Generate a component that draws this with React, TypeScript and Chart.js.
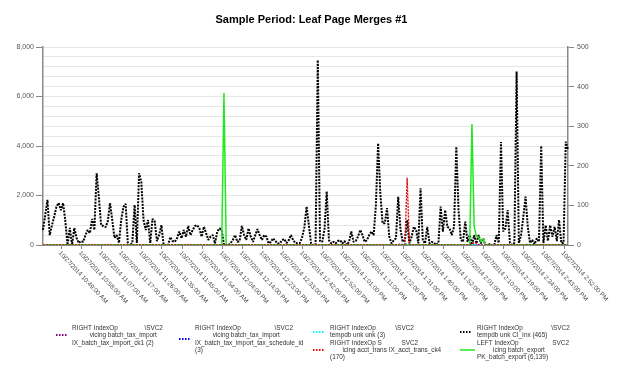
import React, { useEffect, useRef } from 'react';
import { Chart, registerables } from 'chart.js';

Chart.register(...registerables);

const W = 606;
const H = 362;
const FONT = '"Liberation Sans", Arial, Helvetica, sans-serif';

const title = 'Sample Period: Leaf Page Merges #1';

// x-axis tick labels (one every 9 samples, starting at sample 8)
const tickLabels = [
  '10/27/2014 10:49:00 AM', '10/27/2014 10:58:00 AM', '10/27/2014 11:07:00 AM', '10/27/2014 11:17:00 AM',
  '10/27/2014 11:26:00 AM', '10/27/2014 11:35:00 AM', '10/27/2014 11:45:00 AM', '10/27/2014 11:54:00 AM',
  '10/27/2014 12:04:00 PM', '10/27/2014 12:14:00 PM', '10/27/2014 12:23:00 PM', '10/27/2014 12:33:00 PM',
  '10/27/2014 12:42:00 PM', '10/27/2014 12:52:00 PM', '10/27/2014 1:01:00 PM', '10/27/2014 1:11:00 PM',
  '10/27/2014 1:22:00 PM', '10/27/2014 1:31:00 PM', '10/27/2014 1:40:00 PM', '10/27/2014 1:52:00 PM',
  '10/27/2014 2:01:00 PM', '10/27/2014 2:10:00 PM', '10/27/2014 2:19:00 PM', '10/27/2014 2:34:00 PM',
  '10/27/2014 2:43:00 PM', '10/27/2014 2:52:00 PM',
];
const FIRST_LABEL_SAMPLE = 8;
const SAMPLES_PER_LABEL = 9;

// RIGHT axis: tempdb unk CI_Inx (465) - one value per sample
const ciInx = [
  38, 76, 114, 25, 50, 71, 96, 106, 88, 106,
  60, 0, 43, 0, 43, 18, 5, 10, 8, 25,
  38, 30, 66, 38, 181, 121, 50, 48, 45, 60,
  106, 63, 18, 25, 5, 63, 96, 104, 0, 0,
  5, 101, 5, 181, 159, 63, 38, 63, 5, 66,
  60, 10, 25, 50, 0, 0, 0, 20, 10, 8,
  17, 34, 17, 38, 21, 48, 25, 38, 48, 50,
  42, 21, 46, 30, 13, 21, 25, 4, 34, 42,
  38, 0, 0, 0, 5, 13, 25, 8, 10, 48,
  25, 13, 42, 21, 8, 25, 40, 25, 13, 25,
  21, 4, 8, 17, 10, 4, 4, 12, 15, 5,
  12, 25, 12, 5, 4, 5, 20, 45, 97, 50,
  4, 0, 0, 467, 10, 8, 40, 135, 12, 4,
  8, 4, 10, 12, 4, 10, 0, 8, 34, 8,
  10, 21, 38, 25, 8, 12, 25, 34, 25, 100,
  257, 130, 55, 55, 93, 21, 4, 12, 17, 122,
  40, 8, 12, 63, 4, 21, 46, 38, 4, 143,
  12, 4, 46, 4, 8, 5, 0, 5, 97, 34,
  88, 46, 42, 25, 46, 248, 88, 13, 8, 59,
  8, 25, 0, 25, 4, 25, 4, 17, 0, 0,
  2, 0, 0, 25, 5, 260, 34, 42, 88, 5,
  0, 5, 438, 5, 25, 71, 122, 46, 5, 13,
  2, 17, 8, 250, 5, 50, 10, 50, 21, 46,
  10, 63, 5, 5, 261, 240,
];

// Mostly-zero series: [sample, value] for the non-zero samples (0 elsewhere)
const pkBatchExport: [number, number][] = [ // LEFT axis
  [81, 6139], [192, 4889], [193, 740], [194, 350], [195, 300], [196, 150], [197, 250],
];
const ixAcctTransCk4: [number, number][] = [[163, 170], [192, 5], [193, 5], [194, 5]];
const tempdbUnkUnk: [number, number][] = [[162, 3], [217, 3]];
const ixBatchTaxImportCk1: [number, number][] = [[160, 2]];
const ixBatchTaxImportSchedule: [number, number][] = [[162, 3]];

const sp = (n: number) => ' '.repeat(n);

const legendCols = [
  {
    x: 48, textX: 64, entries: [
      { color: '#800080', dotted: true, lines: ['RIGHT IndexOp' + sp(15) + '\\SVC2', sp(10) + 'vicing batch_tax_import', 'IX_batch_tax_import_ck1 (2)'] },
    ],
  },
  {
    x: 171, textX: 187, entries: [
      { color: '#0000ff', dotted: true, lines: ['RIGHT IndexOp' + sp(19) + '\\SVC2', sp(10) + 'vicing batch_tax_import', 'IX_batch_tax_import_tax_schedule_id', '(3)'] },
    ],
  },
  {
    x: 305, textX: 322, entries: [
      { color: '#00ffff', dotted: true, lines: ['RIGHT IndexOp' + sp(11) + '\\SVC2', 'tempdb unk unk (3)'] },
      { color: '#ff0000', dotted: true, lines: ['RIGHT IndexOp S' + sp(11) + 'SVC2', sp(7) + 'icing acct_trans IX_acct_trans_ck4', '(170)'] },
    ],
  },
  {
    x: 452, textX: 469, entries: [
      { color: '#000000', dotted: true, lines: ['RIGHT IndexOp' + sp(16) + '\\SVC2', 'tempdb unk CI_Inx (465)'] },
      { color: '#22e822', dotted: false, lines: ['LEFT IndexOp' + sp(19) + 'SVC2', sp(9) + 'icing batch_export', 'PK_batch_export (6,139)'] },
    ],
  },
];

export default function App() {
  const ref = useRef<HTMLCanvasElement>(null);

  useEffect(() => {
    if (!ref.current) return;
    const n = ciInx.length;
    const categories = Array.from({ length: n }, (_, i) => {
      const k = (i - FIRST_LABEL_SAMPLE) / SAMPLES_PER_LABEL;
      return Number.isInteger(k) && k >= 0 && k < tickLabels.length ? tickLabels[k] : '';
    });
    const expand = (pts: [number, number][]) => {
      const a: number[] = new Array(n).fill(0);
      pts.forEach(([i, v]) => { if (i < n) a[i] = v; });
      return a;
    };

    const dotted = (label: string, data: number[], color: string, order: number, width = 2) => ({
      label, data, yAxisID: 'y1', borderColor: color, backgroundColor: color,
      borderWidth: width, borderDash: [2, 1.2], pointRadius: 0, tension: 0,
      borderJoinStyle: 'bevel' as const, order, fill: false,
    });

    const decor = {
      id: 'decor',
      afterDraw(chart: any) {
        const ctx = chart.ctx as CanvasRenderingContext2D;
        const xs = chart.scales.x;
        const area = chart.chartArea;
        ctx.save();
        // title
        ctx.font = `bold 11px ${FONT}`;
        ctx.fillStyle = '#000';
        ctx.textAlign = 'center';
        ctx.textBaseline = 'middle';
        ctx.fillText(title, W / 2 + 0.5, 12);

        // x ticks & rotated labels
        ctx.font = `6.3px ${FONT}`;
        ctx.fillStyle = '#444';
        ctx.strokeStyle = '#888';
        ctx.lineWidth = 1;
        tickLabels.forEach((lab, k) => {
          const i = FIRST_LABEL_SAMPLE + k * SAMPLES_PER_LABEL;
          if (i >= n) return;
          const px = xs.getPixelForValue(i);
          const rx = Math.round(px) + 0.5;
          ctx.beginPath();
          ctx.moveTo(rx, area.bottom);
          ctx.lineTo(rx, area.bottom + 4);
          ctx.stroke();
          ctx.save();
          ctx.translate(px + 1, area.bottom + 5);
          ctx.rotate((47 * Math.PI) / 180);
          ctx.textAlign = 'left';
          ctx.textBaseline = 'top';
          ctx.fillText(lab, 0, 0);
          ctx.restore();
        });

        // legend
        const lh = 7.4;
        const top = 320;
        ctx.font = `6.4px ${FONT}`;
        ctx.textAlign = 'left';
        ctx.textBaseline = 'middle';
        legendCols.forEach((col) => {
          let line = 0;
          col.entries.forEach((e) => {
            const first = top + line * lh;
            const cy = first + ((e.lines.length - 1) * lh) / 2;
            ctx.save();
            ctx.strokeStyle = e.color;
            if (e.dotted) {
              ctx.lineWidth = 2;
              ctx.setLineDash([1.5, 1.5]);
              ctx.beginPath();
              ctx.moveTo(col.x, Math.round(cy));
              ctx.lineTo(col.x + 11, Math.round(cy));
              ctx.stroke();
            } else {
              ctx.lineWidth = 1.5;
              ctx.beginPath();
              ctx.moveTo(col.x, Math.round(cy));
              ctx.lineTo(col.x + 15, Math.round(cy));
              ctx.stroke();
            }
            ctx.restore();
            ctx.fillStyle = '#333';
            e.lines.forEach((t, j) => ctx.fillText(t, col.textX, first + j * lh));
            line += e.lines.length;
          });
        });
        ctx.restore();
      },
    };

    const chart = new Chart(ref.current, {
      type: 'line',
      data: {
        labels: categories,
        datasets: [
          dotted('RIGHT tempdb unk CI_Inx (465)', ciInx, '#000000', 6),
          dotted('RIGHT IX_batch_tax_import_ck1 (2)', expand(ixBatchTaxImportCk1), '#800080', 5),
          dotted('RIGHT IX_batch_tax_import_tax_schedule_id (3)', expand(ixBatchTaxImportSchedule), '#0000ff', 4),
          dotted('RIGHT tempdb unk unk (3)', expand(tempdbUnkUnk), '#00ffff', 3),
          {
            label: 'LEFT PK_batch_export (6,139)', data: expand(pkBatchExport), yAxisID: 'y',
            borderColor: '#22e822', backgroundColor: '#22e822', borderWidth: 1.5, pointRadius: 0,
            tension: 0, order: 2, fill: false,
          },
          dotted('RIGHT IX_acct_trans_ck4 (170)', expand(ixAcctTransCk4), '#e00000', 1, 1.3),
        ] as any,
      },
      options: {
        responsive: false,
        animation: false,
        devicePixelRatio: 1,
        layout: { padding: { top: 39, left: 0, right: 0, bottom: 0 } },
        plugins: { legend: { display: false }, title: { display: false }, tooltip: { enabled: false } },
        scales: {
          x: {
            type: 'category',
            offset: false,
            grid: { display: false },
            border: { display: true, color: '#888', width: 1 },
            ticks: { display: false },
            afterFit: (s: any) => { s.height = 125; },
          },
          y: {
            position: 'left',
            min: 0, max: 8000,
            ticks: {
              stepSize: 400, maxTicksLimit: 30, autoSkip: false, padding: 2,
              font: { family: FONT, size: 7 }, color: '#555',
              callback: (v: any) => (Number(v) % 2000 === 0 ? Number(v).toLocaleString('en-US') : ''),
            },
            grid: {
              color: (c: any) => (c.tick && c.tick.value === 0 ? 'rgba(0,0,0,0)' : '#e6e6e6'),
              tickColor: (c: any) => (c.tick && c.tick.value % 2000 === 0 ? '#888' : 'rgba(0,0,0,0)'),
              tickLength: 7,
              lineWidth: 1,
            },
            border: { display: true, color: '#8a8a8a', width: 1.5 },
            afterFit: (s: any) => { s.width = 35; },
          },
          y1: {
            position: 'right',
            min: 0, max: 500,
            ticks: { stepSize: 100, autoSkip: false, padding: 3, font: { family: FONT, size: 7 }, color: '#555' },
            grid: { drawOnChartArea: false, tickColor: '#888', tickLength: 6 },
            border: { display: true, color: '#8a8a8a', width: 1.5 },
            afterFit: (s: any) => { s.width = 46; },
          },
        },
      } as any,
      plugins: [decor],
    });
    return () => chart.destroy();
  }, []);

  return (
    <div style={{ width: W, height: H, position: 'relative' }}>
      <canvas ref={ref} width={W} height={H} style={{ display: 'block', width: W, height: H }} />
    </div>
  );
}
